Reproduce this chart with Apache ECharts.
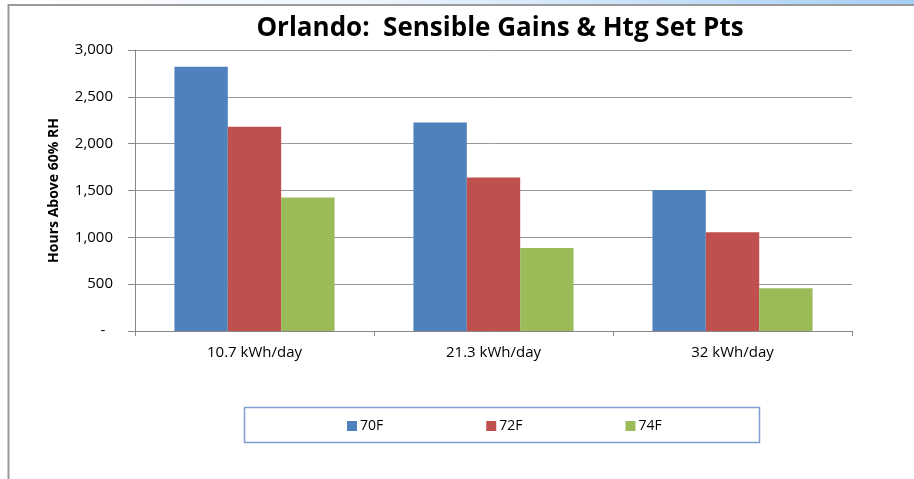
<!DOCTYPE html>
<html>
<head>
    <meta charset="utf-8"/>
    <title>Orlando: Sensible Gains &amp; Htg Set Pts</title>
    <script src="https://cdn.jsdelivr.net/npm/echarts@6/dist/echarts.min.js"></script>
    <style>
        html, body { margin: 0; padding: 0; background: #fff; }
        #chart { width: 914px; height: 479px; }
    </style>
</head>
<body>
<div id="chart"></div>
<script>
    var categories = ['10.7 kWh/day', '21.3 kWh/day', '32 kWh/day'];
    var seriesNames = ['70F', '72F', '74F'];
    var values70 = [2820, 2225, 1505];
    var values72 = [2180, 1640, 1055];
    var values74 = [1425, 885, 457];
    var colors = ['#4F81BD', '#C0504D', '#9BBB59'];

    var font = '"Open Sans", "Liberation Sans", sans-serif';

    var myChart = echarts.init(document.getElementById('chart'));

    // excel accounting style: zero shows as a dash
    function fmt(v) {
        if (v === 0) return '-  ';
        return v.toString().replace(/\B(?=(\d{3})+(?!\d))/g, ',');
    }

    var option = {
        animation: false,
        color: colors,
        title: {
            text: 'Orlando:  Sensible Gains & Htg Set Pts',
            left: 495,
            top: 11,
            textAlign: 'center',
            textStyle: {
                fontFamily: font,
                fontWeight: 'bold',
                fontSize: 26,
                color: '#000'
            }
        },
        grid: {
            left: 135,
            right: 62,
            top: 50,
            bottom: 148
        },
        legend: {
            data: seriesNames,
            left: 342,
            top: 414,
            itemWidth: 10,
            itemHeight: 10,
            itemGap: 103,
            icon: 'rect',
            textStyle: {
                fontFamily: font,
                fontSize: 14,
                color: '#000',
                padding: [0, 0, 0, -2]
            }
        },
        xAxis: {
            type: 'category',
            data: categories,
            axisLine: { lineStyle: { color: '#888', width: 1 } },
            axisTick: { show: true, length: 5, lineStyle: { color: '#888' } },
            axisLabel: {
                fontFamily: font,
                fontSize: 15,
                color: '#000',
                margin: 14
            }
        },
        yAxis: {
            type: 'value',
            min: 0,
            max: 3000,
            interval: 500,
            name: 'Hours Above 60% RH',
            nameLocation: 'middle',
            nameGap: 74,
            nameTextStyle: {
                fontFamily: font,
                fontWeight: 'bold',
                fontSize: 14,
                color: '#000'
            },
            axisLine: { show: true, lineStyle: { color: '#888', width: 1 } },
            axisTick: { show: true, length: 7, lineStyle: { color: '#888' } },
            splitLine: { lineStyle: { color: '#999', width: 1 } },
            axisLabel: {
                fontFamily: font,
                fontSize: 15,
                color: '#000',
                margin: 22,
                formatter: fmt
            }
        },
        series: [
            { name: seriesNames[0], type: 'bar', data: values70, barGap: '0%', barCategoryGap: '33%' },
            { name: seriesNames[1], type: 'bar', data: values72, barGap: '0%', barCategoryGap: '33%' },
            { name: seriesNames[2], type: 'bar', data: values74, barGap: '0%', barCategoryGap: '33%' }
        ],
        graphic: [
            {
                type: 'rect',
                shape: { x: 0, y: 0, width: 914, height: 4 },
                style: {
                    fill: new echarts.graphic.LinearGradient(0, 0, 1, 0, [
                        { offset: 0, color: 'rgba(166,207,245,0)' },
                        { offset: 0.4, color: 'rgba(166,207,245,0.2)' },
                        { offset: 1, color: 'rgba(166,207,245,1)' }
                    ])
                },
                silent: true
            },
            {
                type: 'line',
                shape: { x1: 8, y1: 5, x2: 914, y2: 5 },
                style: { stroke: '#9a9a9a', lineWidth: 2 },
                silent: true
            },
            {
                type: 'line',
                shape: { x1: 8.5, y1: 4, x2: 8.5, y2: 479 },
                style: { stroke: '#9a9a9a', lineWidth: 2 },
                silent: true
            },
            {
                type: 'rect',
                shape: { x: 244.5, y: 407.5, width: 515, height: 35 },
                style: { fill: 'none', stroke: '#7f9fcf', lineWidth: 1.5 },
                silent: true
            }
        ]
    };
    myChart.setOption(option);
</script>
</body>
</html>
